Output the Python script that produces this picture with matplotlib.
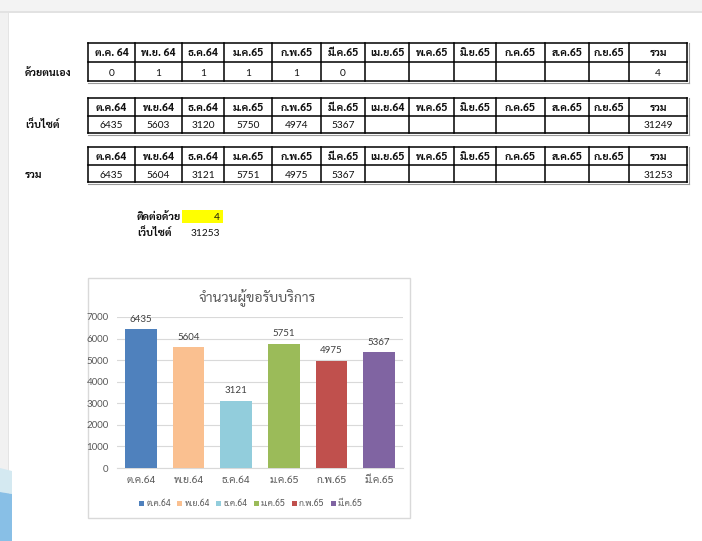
import matplotlib
matplotlib.use("Agg")
import matplotlib.pyplot as plt
from matplotlib import font_manager
from matplotlib.patches import Rectangle, Polygon

# ---------------- data ----------------
headers_1 = ["ต.ค. 64", "พ.ย. 64", "ธ.ค.64", "ม.ค.65", "ก.พ.65", "มี.ค.65", "เม.ย.65",
             "พ.ค.65", "มิ.ย.65", "ก.ค.65", "ส.ค.65", "ก.ย.65", "รวม"]
headers_2 = ["ต.ค.64", "พ.ย.64", "ธ.ค.64", "ม.ค.65", "ก.พ.65", "มี.ค.65", "เม.ย.64",
             "พ.ค.65", "มิ.ย.65", "ก.ค.65", "ส.ค.65", "ก.ย.65", "รวม"]
headers_3 = ["ต.ค.64", "พ.ย.64", "ธ.ค.64", "ม.ค.65", "ก.พ.65", "มี.ค.65", "เม.ย.65",
             "พ.ค.65", "มิ.ย.65", "ก.ค.65", "ส.ค.65", "ก.ย.65", "รวม"]
row_labels = ["ด้วยตนเอง", "เว็บไซต์", "รวม"]
self_service = [0, 1, 1, 1, 1, 0]
self_total = 4
website = [6435, 5603, 3120, 5750, 4974, 5367]
website_total = 31249
combined = [6435, 5604, 3121, 5751, 4975, 5367]
combined_total = 31253
summary_labels = ["ติดต่อด้วย", "เว็บไซต์"]
summary_values = [4, 31253]

chart_title = "จำนวนผู้ขอรับบริการ"
categories = ["ต.ค.64", "พ.ย.64", "ธ.ค.64", "ม.ค.65", "ก.พ.65", "มี.ค.65"]
chart_values = [6435, 5604, 3121, 5751, 4975, 5367]
bar_colors = ["#4f81bd", "#fac090", "#92cddc", "#9bbb59", "#c0504d", "#8064a2"]
y_ticks = [0, 1000, 2000, 3000, 4000, 5000, 6000, 7000]

# ---------------- fonts ----------------
available = {f.name for f in font_manager.fontManager.ttflist}
thai = "DejaVu Sans"
for cand in ["Sarabun", "Noto Sans Thai Looped", "IBM Plex Sans Thai Looped", "Noto Sans Thai",
             "IBM Plex Sans Thai", "Noto Sans Thai UI", "Bai Jamjuree", "Athiti"]:
    if cand in available:
        thai = cand
        break
latin = "Lato" if "Lato" in available else "DejaVu Sans"
FAM = [latin, thai, "DejaVu Sans"]
THFAM = [thai, "DejaVu Sans"]
plt.rcParams["font.family"] = FAM

W, H = 702, 541
fig = plt.figure(figsize=(W / 100, H / 100), dpi=100)
bg = fig.add_axes([0, 0, 1, 1])
bg.set_xlim(0, W)
bg.set_ylim(H, 0)
bg.axis("off")

# ---------------- window decoration ----------------
bg.add_patch(Rectangle((0, 0), W, 11, color="#f3f3f3", lw=0))
bg.add_patch(Rectangle((0, 11), W, 2, color="#e2e2e2", lw=0))
bg.add_patch(Rectangle((0, 13), 8, H, color="#f1f1f1", lw=0))
bg.add_patch(Rectangle((8, 13), 1.2, H, color="#e4e4e4", lw=0))
bg.add_patch(Polygon([(0, 468), (12, 471), (12, 494), (0, 492)], closed=True,
                     color="#d4e9f1", lw=0))
bg.add_patch(Polygon([(0, 492), (12, 494), (12, H), (0, H)], closed=True,
                     color="#88bfe6", lw=0))

# ---------------- tables ----------------
cols = [88, 135, 182, 224, 272, 321, 365, 409, 454, 496, 545, 589, 629, 687]
tables = [
    (headers_1, self_service, self_total, row_labels[0], (43, 62, 81)),
    (headers_2, website, website_total, row_labels[1], (98, 116, 133)),
    (headers_3, combined, combined_total, row_labels[2], (147, 165, 182)),
]
TS = 7.6
BL = 4.0  # baseline offset below cell centre, px
for hdrs, vals, tot, lab, (y0, y1, y2) in tables:
    bg.plot([cols[0], cols[-1] + 2], [y2 + 1.5, y2 + 1.5], color="#9a9a9a", lw=0.8)
    bg.plot([cols[-1] + 2, cols[-1] + 2], [y0, y2 + 1.5], color="#9a9a9a", lw=0.8)
    for y in (y0, y1, y2):
        bg.plot([cols[0], cols[-1]], [y, y], color="black", lw=1.1, solid_capstyle="projecting")
    for x in cols:
        bg.plot([x, x], [y0, y2], color="black", lw=1.1, solid_capstyle="projecting")
    for i, h in enumerate(hdrs):
        xc = (cols[i] + cols[i + 1]) / 2
        bg.text(xc, (y0 + y1) / 2 + BL, h, ha="center", va="baseline", fontsize=TS,
                family=THFAM, fontweight="bold", color="#111111")
    cells = [str(v) for v in vals] + [""] * (12 - len(vals)) + [str(tot)]
    for i, s in enumerate(cells):
        if s:
            xc = (cols[i] + cols[i + 1]) / 2
            bg.text(xc, (y1 + y2) / 2 + BL, s, ha="center", va="baseline", fontsize=7.3,
                    color="#111111")
    bg.text(25, (y1 + y2) / 2 + BL, lab, ha="left", va="baseline", fontsize=TS,
            family=THFAM, fontweight="bold", color="#111111")

# ---------------- summary ----------------
bg.add_patch(Rectangle((182, 210), 41, 12.5, color="#ffff00", lw=0))
for j, (lab, val) in enumerate(zip(summary_labels, summary_values)):
    yc = 216.5 + j * 15
    bg.text(137, yc + BL, lab, ha="left", va="baseline", fontsize=TS, family=THFAM,
            fontweight="bold", color="#111111")
    bg.text(220, yc + BL, str(val), ha="right", va="baseline", fontsize=7.3, color="#111111")

# ---------------- chart ----------------
bg.add_patch(Rectangle((88, 278), 322, 240, facecolor="white", edgecolor="#d9d9d9", lw=1.0))
bg.text(257, 302, chart_title, ha="center", va="baseline", fontsize=10, family=THFAM,
        color="#595959")

px_left, px_right, px_top, px_bot = 117, 403, 317, 468
ax = fig.add_axes([px_left / W, 1 - px_bot / H, (px_right - px_left) / W, (px_bot - px_top) / H])
ax.set_facecolor("none")
xs = list(range(len(categories)))
bars = ax.bar(xs, chart_values, width=0.67, color=bar_colors, zorder=3)
ax.set_xlim(-0.5, len(categories) - 0.5)
ax.set_ylim(0, 7000)
ax.set_yticks(y_ticks)
ax.set_yticklabels([str(t) for t in y_ticks])
ax.set_xticks(xs)
ax.set_xticklabels(categories, family=THFAM)
for t in ax.get_xticklabels():
    t.set_verticalalignment("baseline")
ax.tick_params(axis="y", length=0, pad=6, labelsize=7, labelcolor="#595959")
ax.tick_params(axis="x", length=0, pad=11, labelsize=7.5, labelcolor="#595959")
ax.grid(axis="y", color="#d9d9d9", lw=0.8, zorder=0)
for s in ["top", "right", "left"]:
    ax.spines[s].set_visible(False)
ax.spines["bottom"].set_color("#d9d9d9")
ax.spines["bottom"].set_linewidth(0.8)
for b, v in zip(bars, chart_values):
    ax.annotate(str(v), (b.get_x() + b.get_width() / 2, v), xytext=(0, 4),
                textcoords="offset points", ha="center", va="bottom", fontsize=7,
                color="#404040")

leg = ax.legend(bars, categories, loc="center", bbox_to_anchor=(251 / W, 1 - 504 / H),
                bbox_transform=fig.transFigure, ncol=6, frameon=False,
                handlelength=0.55, handleheight=0.55, handletextpad=0.25, columnspacing=0.75,
                prop={"family": THFAM, "size": 6.3})
for t in leg.get_texts():
    t.set_color("#595959")

fig.savefig("out.png", dpi=100)
